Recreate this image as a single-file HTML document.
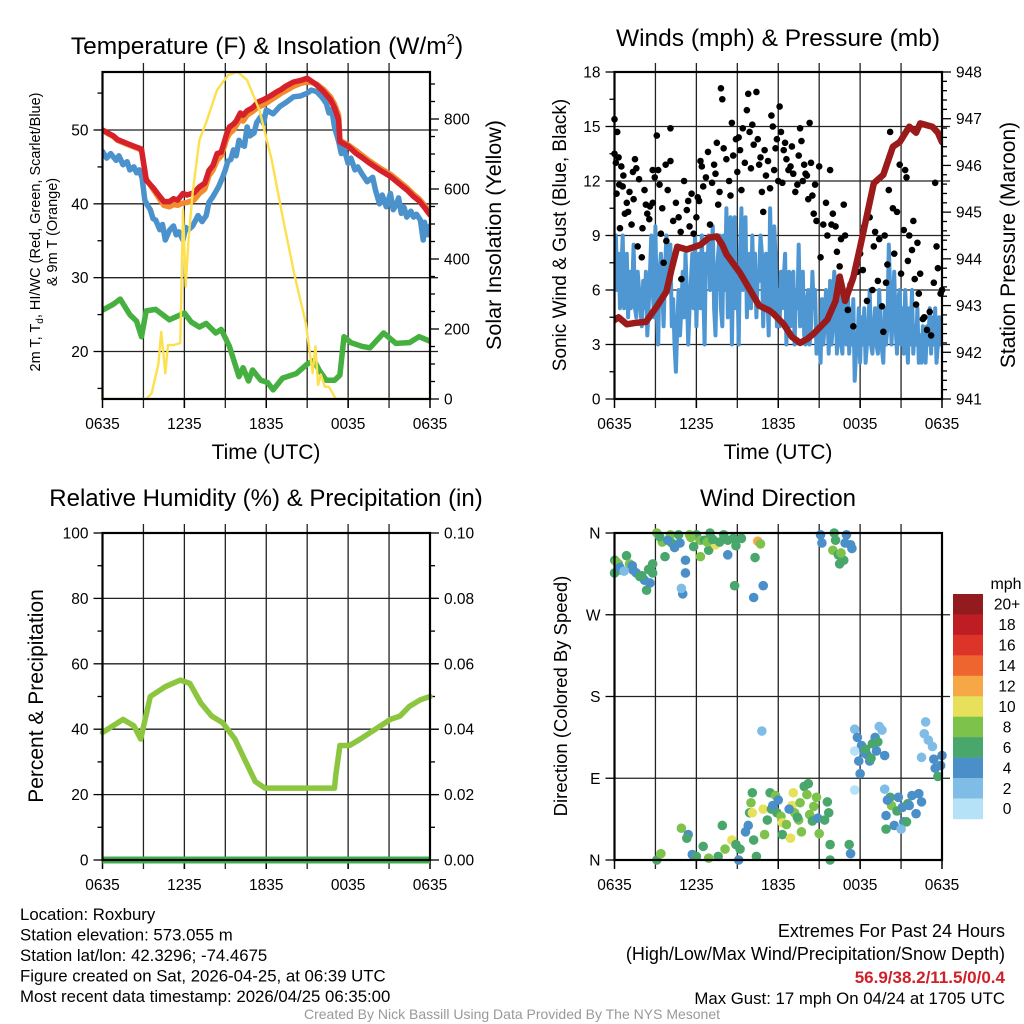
<!DOCTYPE html>
<html><head><meta charset="utf-8"><style>
html,body{margin:0;padding:0;background:#fff;}
svg{display:block;font-family:"Liberation Sans",sans-serif;}
</style></head><body>
<svg id="c" width="1024" height="1024" viewBox="0 0 1024 1024" xmlns="http://www.w3.org/2000/svg"></svg>
<script>
// ---------- data ----------
const xTickLabels = ["0635","1235","1835","0035","0635"];
// Panel 1: temperature (hours since 0635 UTC)
const redHours = [0,0.4,0.8,1.1,1.5,1.9,2.3,2.6,2.86,3.2,3.7,4.2,4.5,4.9,5.2,5.5,5.9,6.2,6.7,7.1,7.5,7.8,8.1,8.4,8.7,8.9,9.1,9.3,9.6,9.8,10.1,10.3,10.6,11.0,11.4,11.8,12.3,12.8,13.1,13.4,13.7,14.0,14.5,15.0,15.4,15.7,16.2,16.7,17.0,17.3,17.4,18.0,18.6,19.0,19.5,20.3,21.1,21.7,22.3,22.8,23.2,23.6,24];
const redTemp  = [50,49.6,49.2,48.7,48.4,48.1,47.8,47.6,47.4,43.2,42.2,41.0,40.3,40.3,40.7,40.5,41.4,41.2,41.5,42.3,42.8,44.5,45.2,46.8,47.0,48.2,49.5,50.4,50.8,51.2,52.3,52.0,52.6,53.0,53.8,54.1,54.6,55.2,55.5,55.9,56.2,56.5,56.7,57.0,56.5,56.1,55.2,54.1,53.0,51.4,48.4,47.8,46.8,46.3,45.6,44.6,43.7,42.8,41.9,41.0,40.4,39.5,38.5];
const orangeTemp=[50,49.5,49.1,48.6,48.3,48.0,47.7,47.5,47.2,43.4,42.0,40.6,39.8,39.6,39.9,39.8,40.1,40.2,40.5,41.4,42.0,43.8,44.6,45.9,46.5,47.6,48.8,49.5,50.0,50.6,51.5,51.2,52.0,52.5,53.1,53.4,54.0,54.6,55.0,55.3,55.6,55.9,56.3,56.5,56.4,56.2,55.5,54.5,53.5,52.0,48.6,48.0,47.2,46.6,45.9,44.9,44.0,43.1,42.2,41.3,40.7,39.8,38.8];
const blueHours = [0,0.3,0.6,1.0,1.2,1.5,1.8,2.0,2.3,2.5,2.7,2.9,3.1,3.3,3.5,3.7,3.9,4.2,4.4,4.6,4.9,5.2,5.4,5.6,5.9,6.1,6.3,6.6,7.0,7.3,7.6,7.8,8.1,8.5,8.8,9.0,9.2,9.4,9.6,9.8,10.0,10.2,10.4,10.6,10.8,11.1,11.3,11.6,11.8,12.0,12.5,13.0,13.5,14.0,14.5,15.0,15.3,15.7,16.1,16.4,16.6,16.8,17.0,17.3,17.5,17.7,18.0,18.2,18.5,18.7,19.0,19.4,19.8,20.0,20.3,20.5,20.8,21.1,21.3,21.5,21.7,21.9,22.1,22.3,22.6,22.8,23.0,23.3,23.5,23.6,23.8,24];
const blueTemp  = [47.1,46.2,46.8,45.9,46.5,45.3,45.7,44.6,45.0,44.2,44.6,43.5,40.5,39.8,39.2,38.0,37.8,36.5,37.2,35.1,36.4,37.0,35.8,36.2,35.1,36.8,36.5,37,38.4,37.6,38.4,40.2,41,42.3,43.6,44.6,45.8,46,47.3,46.5,48.6,48.0,47.8,50.4,49.2,49.6,51.0,51.8,50.9,52.7,52.2,53.2,53.8,54.5,54.6,55.0,55.4,55.2,54.4,53.6,52.3,52.8,50.4,48.5,46.8,47.5,45.5,46.2,44.6,45.0,44.1,43.0,43.6,41.9,40.0,41.2,39.6,41.4,39.2,39.8,40.8,38.7,39.5,38.2,39.0,38.2,38.6,37.8,35.1,37.5,35.8,37];
const greenHours= [0,0.8,1.3,2.0,2.5,2.86,3.2,3.9,4.9,5.5,6.0,6.5,7.1,7.6,8.3,8.7,9.3,10.0,10.3,10.7,11.0,11.6,12.1,12.5,13.2,14.2,15.0,15.5,15.9,16.4,17.0,17.4,17.7,18.2,19.0,19.6,20.6,21.5,22.5,23.2,24];
const greenTemp = [25.6,26.4,27.1,25.0,24.1,22.0,25.5,25.7,24.3,24.8,25.2,24.0,23.3,23.8,22.5,23.0,20.7,16.6,17.8,16.0,17.5,16.1,15.8,14.8,16.4,17.0,18.3,18.8,17.4,16.1,16.1,16.8,22.0,21.2,20.7,20.5,22.5,21.1,21.2,22.0,21.4];
const solarHours= [0,3.2,3.6,4.1,4.3,4.6,4.8,5.2,5.7,5.9,6.1,6.3,6.6,7.1,7.6,8.4,9.2,9.9,10.6,11.5,12.4,13.2,14.1,14.9,15.4,15.6,15.8,16.0,16.3,16.6,17.1,17.6,24];
const solarWm2  = [0,0,16,100,192,74,154,154,160,540,321,454,588,740,790,883,925,935,911,826,683,521,349,217,74,150,40,70,35,35,0,0,0];
// Panel 2: winds & pressure (10 samples per hour)
const windMph=[
7,9,6,8,5,7,9,5,6,8, 4.5,7,5,6,8.5,5,4.5,7,6,5, 4,6.5,5,7,3.5,5,7,9,6,4.5,
9.5,5,3,7,8,6,4,7,9,6, 6,8.5,4,5.5,3,1.5,4,6,3.5,5, 7,4.5,8,6,3,5,6.5,8,5,9,
4,7,8,5,9,6,3,8,7,9, 6,8,9.5,5,3.5,7,8,9,5,4, 9,6,10.5,4.5,8,10,3,7,10,5,
7,3,8,10.5,6,8.5,10,4.5,7,8, 5,9,6,8,4.5,7,6.5,9,8,4, 7,8,6,3.5,10.5,7,5,9.5,8,4,
6,4,7,5,6.5,8,3,6.5,7,4, 5.5,7,3,6,5,8.5,4,6,7,3.5, 3,5.5,6,3,4,7,5,6,2.5,4,
3.5,2,5.5,3,4,6,5,2.5,6.5,3, 4,7,6,2.5,5,6,3,2.5,5.5,4, 3,6,2.5,5,3,5.5,1,2.5,3,5,
2,4.5,3,5,2,3,4,6,3,2.5, 4,5,3,2.5,6,4,2.7,2,5,3, 4,8.5,6,3,5,7,4,2.5,5.5,6,
3,5,2.5,6,4,2,5,3,6,2.5, 4,3,5,2,3.5,2,4,3,2,4, 3,5,2.5,4.5,3,5,2,3,4.5,3, 3];
const windHours=windMph.map((v,i)=>i/10);
const gustHours=[0,0.2,0,0.15,0.3,0.5,0.6,0.4,0.76,1.0,1.25,1.4,1.5,1.6,1.8,1.7,2.0,2.2,2.3,2.05,2.6,2.8,2.8,3.1,3.2,3.3,3.4,3.6,3.8,3.9,4.1,4.1,4.5,4.7,4.9,5.3,5.4,5.5,5.8,6.0,6.1,6.3,6.5,6.7,7.0,7.4,7.5,7.7,7.8,7.9,8.2,8.6,8.7,8.9,9.2,9.3,9.4,9.7,9.8,9.9,10.2,10.4,10.5,10.7,10.9,11.0,11.1,11.4,11.5,11.6,11.8,11.9,12.1,12.2,12.4,12.6,12.9,13.0,13.1,13.4,13.6,13.7,13.9,14.0,14.1,14.3,14.5,14.6,14.7,14.8,15.1,15.3,15.5,15.8,15.9,16.2,16.3,16.5,16.8,16.9,17.1,17.5,18.0,18.2,18.5,18.7,19.0,19.1,19.3,19.6,19.7,19.9,20.2,20.1,20.4,20.7,20.9,21.2,21.3,21.4,21.5,21.8,21.9,22.0,22.2,22.3,22.4,22.6,22.9,23.1,23.4,23.5,23.6,23.9,24,
0.1,0.35,0.65,0.9,1.1,1.35,2.4,2.55,2.95,3.5,3.75,4.3,4.85,5.1,5.65,6.2,6.4,6.85,7.15,7.3,7.6,8.0,8.4,8.5,9.0,9.1,9.55,10.0,10.1,10.6,10.8,11.25,11.7,12.0,12.3,12.5,12.75,13.25,13.5,13.8,14.2,14.4,15.0,15.6,16.0,16.6,17.3,17.8,18.3,18.9,19.4,19.8,20.0,20.5,21.0,21.6,22.1,22.7,23.2,23.7];
const gustMph=[15.4,14.7,13.5,11.3,13.3,12.8,11.7,9.4,10.2,10.3,9.6,11,13.2,12.7,12.1,8.4,7.8,11.5,10.7,9.4,10.6,10.8,12.6,14.5,12.6,11.8,9.1,7.5,8.7,11.5,14.9,13.1,10.8,10,6.6,10.4,10.9,9.5,9.1,10.0,11.1,13.1,11.7,12.2,9.6,12.4,14.1,11.4,17.1,16.5,13.2,15.2,13.4,14.3,13.7,11.5,14.9,15.9,16.8,14.7,14,16.9,14.3,13.3,10.3,13.7,12.3,11.6,15.6,15.0,13.8,14.3,16.1,14.7,13.7,13.2,12.8,13.9,12.4,11.8,14.9,14.2,12.9,12.4,12.3,15.2,11.2,10.2,11.8,9.8,7.8,9.6,10.8,12.6,9.6,9.5,8.1,7.3,10.7,9,4.9,4.0,8.0,7.1,5.4,10,8.4,9.2,6.5,5.1,3.7,6.4,14.7,11.5,10.5,10.3,12.9,9.3,12.6,12.2,7.6,8.2,9.8,6.6,8.6,5.8,6.9,4.4,3.8,4.8,6.4,11.9,8.4,5.8,6.0,
13.0,11.8,12.3,10.8,11.4,12.5,10.2,9.9,12.2,10.5,12.9,9.8,9.2,12.0,11.3,10.9,12.8,13.6,11.9,12.9,10.7,13.8,12.0,11.2,12.5,14.4,13.0,12.7,15.1,12.9,11.4,13.1,12.6,12.0,11.9,14.1,12.6,11.4,13.4,12.0,11.0,13.0,12.8,9.0,10.2,8.8,6.3,7.0,9.5,6.0,8.8,9.0,7.4,8.0,6.9,9.0,5.2,4.5,3.5,7.2];
const presHours=[0,0.3,0.9,1.5,2.3,3.1,3.8,4.2,4.6,5.3,5.8,6.3,6.9,7.5,7.9,8.2,9.2,10.1,10.6,11.3,11.6,12.4,13.0,13.6,14.1,14.6,15.6,16.2,16.5,16.9,17.5,18.0,19.0,19.7,20.4,20.9,21.6,22.1,22.4,23.3,23.7,24];
const presMb=[942.69,942.75,942.6,942.63,942.65,942.98,943.3,943.8,944.26,944.2,944.25,944.3,944.45,944.48,944.3,944.1,943.7,943.25,943.0,942.9,942.84,942.6,942.33,942.2,942.28,942.4,942.7,943.1,943.62,943.1,943.6,944.25,945.62,945.8,946.4,946.5,946.83,946.7,946.9,946.83,946.7,946.5];
// Panel 3: relative humidity
const rhHours=[0,1.5,2.3,2.8,3.5,4.6,5.7,6.4,7.2,8.0,8.8,9.7,10.5,11.2,11.9,13.0,14.5,15.9,17.0,17.1,17.4,18.1,18.9,20.0,21.1,21.8,22.5,23.3,24];
const rhPct=[39,43,41,37,50,53,55,54,48,44,42,37,30,24,22,22,22,22,22,26,35,35,37,40,43,44,47,49,50];
const precipHours=[0,24];
const precipIn=[0,0];
// Panel 4: wind direction
const dirHours=[0,0.02,0.27,0.51,0.88,1.1,1.37,1.6,1.86,2.2,2.35,2.6,2.8,2.8,0.15,3.1,3.5,3.7,4.1,4.2,4.7,4.8,5.2,5.2,5.0,4.9,5.5,5.8,6.0,6.3,6.3,6.6,7.0,6.9,7.4,7.7,8.3,8.3,8.7,8.8,8.9,9.3,10.2,10.3,10.5,10.7,10.9,10.8,15.1,15.2,16.1,16.2,16.0,16.4,16.5,16.8,17.0,16.9,17.3,17.4,17.6,17.8,18.1,18.3,17.9,18.0,18.5,18.7,18.9,19.1,19.2,19.4,19.6,19.8,17.6,17.6,19.8,22.8,22.7,23.0,23.3,22.5,23.4,23.5,24,23.7,23.9,20.2,19.9,20.3,20.7,20.8,21.1,21.2,21.4,21.5,21.8,22.1,22.3,22.5,20.5,19.9,21.0,3.1,3.4,4.9,5.4,5.3,5.7,6.0,6.5,6.9,7.6,7.9,8.1,8.6,8.9,9.2,9.1,9.6,9.8,10.2,10.4,10.0,9.9,10.1,10.1,10.9,11.0,11.2,11.4,11.5,11.8,11.9,12.2,12.3,12.3,12.6,12.9,13.0,13.1,13.2,13.5,13.6,13.7,13.9,14.1,14.2,14.3,14.5,14.6,14.8,14.9,15.0,15.6,15.7,15.4,15.8,15.8,17.2,17.3,
0.4,0.7,1.3,2.0,2.5,3.3,3.9,4.4,5.6,6.8,7.2,8.0,16.6,18.4,18.8,19.3,21.6,20.0,11.6,12.0,12.8,13.4];
const dirDeg=[316,330,326,319,335,326,319,316,312,308,297,305,316,326,328,360,350,334,358,349,358,349,330,316,293,299,358,345,358,352,334,352,360,341,347,350,336,352,354,302,346,354,289,333,351,348,302,142,358,349,360,352,341,336,326,330,358,349,347,343,144,135,126,118,109,95,116,109,128,135,120,147,143,115,120,77,78,152,139,132,125,113,111,101,115,92,104,69,49,60,54,69,58,42,42,62,71,51,73,64,38,34,34,0,7,35,28,24,6,4,15,2,4,38,12,22,17,12,0,31,38,22,4,63,52,74,52,56,28,44,74,56,71,52,48,41,28,39,24,60,74,52,44,63,31,81,72,84,50,43,59,69,46,29,64,52,44,17,0,17,7,
322,318,324,313,320,356,352,344,355,350,353,358,338,122,112,130,60,66,60,66,56,47];
const dirSpeed=[7,7,7,7,7,9,5,5,7,5,7,5,7,7,9,9,9,7,9,7,7,5,5,5,5,3,9,7,7,9,9,7,7,7,11,7,5,7,7,7,7,7,5,7,13,9,5,3,5,5,7,7,9,7,7,7,5,5,5,5,3,5,5,5,5,5,5,5,7,5,5,3,3,5,1,1,3,3,3,3,3,3,5,5,5,7,5,7,5,9,7,5,5,5,7,7,5,5,5,5,5,7,3,7,9,9,5,7,5,7,7,9,7,7,9,11,7,7,5,5,5,7,7,9,7,7,11,11,9,7,7,7,9,7,9,11,7,9,11,11,11,9,9,9,9,7,9,7,9,7,9,9,5,9,7,7,7,7,7,7,5,5,3,5,
7,7,7,5,5,9,9,7,7,9,7,7,7,5,5,5,5,5,7,9,9,7];
const cbarLabels=["20+","18","16","14","12","10","8","6","4","2","0"];
const cbarColors=["#941b1d","#bf1d24","#dd3429","#ef6530","#f6a847","#e6e05b","#7dc24a","#4aa76b","#4a8fc7","#7fbce6","#b6e2f7"];

// ---------- helpers ----------
const NS="http://www.w3.org/2000/svg";
const svg=document.getElementById('c');
function el(tag,attrs,parent,text){
  const e=document.createElementNS(NS,tag);
  for(const k in attrs) e.setAttribute(k,attrs[k]);
  if(text!==undefined) e.textContent=text;
  (parent||svg).appendChild(e);
  return e;
}
function lin(d0,d1,r0,r1){return v=>r0+(v-d0)/(d1-d0)*(r1-r0);}
function colorFor(s){const i=Math.min(10,Math.floor(s/2));return cbarColors[10-i];}

function frame(g,X0,X1,Y0,Y1,name){
  const xs=lin(0,24,X0,X1);
  for(let h=3;h<24;h+=3){
    const gl=el('line',{x1:xs(h),x2:xs(h),y1:Y0-9,y2:Y1+9,stroke:'#222','stroke-width':1.3},g);
    
    
  }
  for(let i=0;i<5;i++){
    const t=el('line',{x1:xs(i*6),x2:xs(i*6),y1:Y1,y2:Y1+9,stroke:'#000','stroke-width':1.5},g);
    
    
    const lb=el('text',{x:xs(i*6),y:Y1+30,'font-size':15.5,'text-anchor':'middle',fill:'#000'},g,xTickLabels[i]);
    
    
  }
  return xs;
}
function hgrid(g,X0,X1,y,name){
  const l=el('line',{x1:X0,x2:X1+8,y1:y,y2:y,stroke:'#222','stroke-width':1.3},g);
  
  
}
function box(g,X0,X1,Y0,Y1,name){
  const r=el('rect',{x:X0,y:Y0,width:X1-X0,height:Y1-Y0,fill:'none',stroke:'#000','stroke-width':2.2},g);
  
  
}
function tick(g,x,y,len,name){
  const t=el('line',{x1:x,x2:x+len,y1:y,y2:y,stroke:'#000','stroke-width':1.3},g);
  
  
}
function label(g,x,y,txt,size,name,anchor,rot,fill,weight){
  const a={x:x,y:y,'font-size':size,'text-anchor':anchor||'middle',fill:fill||'#000'};
  if(rot) a.transform='rotate('+rot+' '+x+' '+y+')';
  if(weight) a['font-weight']=weight;
  const t=el('text',a,g,txt);
  
  
  return t;
}
function pathFrom(xsArr,ysArr,xs,ys){
  let d='';
  for(let i=0;i<xsArr.length;i++) d+=(i?'L':'M')+xs(xsArr[i]).toFixed(1)+' '+ys(ysArr[i]).toFixed(1);
  return d;
}

// ---------- Panel 1 ----------
(function(){
  const X0=102.5,X1=430,Y0=72,Y1=399;
  const g=el('g',{});
  
  
  const xs=frame(g,X0,X1,Y0,Y1,'temp');
  const ys=lin(20,50,351.5,130);
  const ysR=lin(0,800,399,119);
  [20,30,40,50].forEach(v=>{hgrid(g,X0,X1,ys(v),'temp');tick(g,X0,ys(v),-9,'temp-y-tick');label(g,X0-14,ys(v)+5.5,String(v),15.5,'temp-y-tick-label','end');});
  [15,25,35,45,55].forEach(v=>tick(g,X0,ys(v),-5,'temp-y-minor-tick'));
  for(let v=0;v<=900;v+=50){tick(g,X1,ysR(v),v%200===0?9:5,'solar-y-tick');}
  [0,200,400,600,800].forEach(v=>label(g,X1+14,ysR(v)+5.5,String(v),15.5,'solar-y-tick-label','start'));
  const defs=el('defs',{},g);
  const cp=el('clipPath',{id:'cp1'},defs);
  el('rect',{x:X0,y:Y0,width:X1-X0,height:Y1-Y0},cp);
  const series=[[greenHours,greenTemp,'#45b03f',5.5,'dewpoint-line'],[blueHours,blueTemp,'#4b92cc',5.5,'heat-index-line'],[redHours,orangeTemp,'#f28a2e',5.5,'temp-9m-line'],[redHours,redTemp,'#d6202a',5.5,'temp-2m-line']];
  series.forEach(s=>{
    const p=el('path',{d:pathFrom(s[0],s[1],xs,ys),fill:'none',stroke:s[2],'stroke-width':s[3],'stroke-linejoin':'round','stroke-linecap':'round','clip-path':'url(#cp1)'},g);
    
    
  });
  const sp=el('path',{d:pathFrom(solarHours,solarWm2,xs,ysR),fill:'none',stroke:'#fde04e','stroke-width':2.4,'stroke-linejoin':'round','clip-path':'url(#cp1)'},g);
  
  
  box(g,X0,X1,Y0,Y1,'temp');
  const t=label(g,267,54,'Temperature (F) & Insolation (W/m',24.5,'temp-panel-title');
  el('tspan',{dy:-10,'font-size':15},t,'2');
  el('tspan',{dy:10},t,')');
  label(g,266,459,'Time (UTC)',21,'temp-x-axis-title');
  label(g,40,232,'2m T, T',14.5,'temp-y-axis-title-line1',null,-90);
  const ttl=svg.lastChild.lastChild;
  el('tspan',{dy:3,'font-size':10},ttl,'d');
  el('tspan',{dy:-3},ttl,', HI/WC (Red, Green, Scarlet/Blue)');
  label(g,57,232,'& 9m T (Orange)',14.5,'temp-y-axis-title-line2',null,-90);
  label(g,501,235,'Solar Insolation (Yellow)',21.5,'solar-y-axis-title',null,-90);
})();

// ---------- Panel 2 ----------
(function(){
  const X0=614.5,X1=942,Y0=72,Y1=399;
  const g=el('g',{});
  
  
  const xs=frame(g,X0,X1,Y0,Y1,'wind');
  const ys=lin(0,18,Y1,Y0);
  const ysR=lin(941,948,Y1,Y0);
  [3,6,9,12,15].forEach(v=>hgrid(g,X0,X1,ys(v),'wind'));
  for(let v=0;v<=18;v+=1.5) tick(g,X0,ys(v),v%3===0?-9:-5,'wind-y-tick');
  [0,3,6,9,12,15,18].forEach(v=>label(g,X0-14,ys(v)+5.5,String(v),15.5,'wind-y-tick-label','end'));
  for(let i=0;i<=35;i++){const v=941+i*0.2;tick(g,X1,ysR(v),i%5===0?9:5,'pressure-y-tick');}
  [941,942,943,944,945,946,947,948].forEach(v=>label(g,X1+14,ysR(v)+5.5,String(v),15.5,'pressure-y-tick-label','start'));
  const defs=el('defs',{},g);
  const cp=el('clipPath',{id:'cp2'},defs);
  el('rect',{x:X0,y:Y0,width:X1-X0,height:Y1-Y0},cp);
  const wp=el('path',{d:pathFrom(windHours,windMph,xs,ys),fill:'none',stroke:'#4f97d2','stroke-width':4,'stroke-linejoin':'round','clip-path':'url(#cp2)'},g);
  
  
  for(let i=0;i<gustHours.length;i++){
    const c=el('circle',{cx:xs(gustHours[i]),cy:ys(gustMph[i]),r:3.3,fill:'#000'},g);
    
    
  }
  const pp=el('path',{d:pathFrom(presHours,presMb,xs,ysR),fill:'none',stroke:'#9b1a1a','stroke-width':6.5,'stroke-linejoin':'round','stroke-linecap':'round','clip-path':'url(#cp2)'},g);
  
  
  box(g,X0,X1,Y0,Y1,'wind');
  label(g,778,46,'Winds (mph) & Pressure (mb)',24.5,'wind-panel-title');
  label(g,778,459,'Time (UTC)',21,'wind-x-axis-title');
  label(g,566,235,'Sonic Wind & Gust (Blue, Black)',19,'wind-y-axis-title',null,-90);
  label(g,1015,245,'Station Pressure (Maroon)',21,'pressure-y-axis-title',null,-90);
})();

// ---------- Panel 3 ----------
(function(){
  const X0=102.5,X1=430,Y0=533,Y1=860;
  const g=el('g',{});
  
  
  const xs=frame(g,X0,X1,Y0,Y1,'rh');
  const ys=lin(0,100,Y1,Y0);
  const ysR=lin(0,0.1,Y1,Y0);
  [20,40,60,80].forEach(v=>hgrid(g,X0,X1,ys(v),'rh'));
  for(let v=0;v<=100;v+=10) tick(g,X0,ys(v),v%20===0?-9:-5,'rh-y-tick');
  [0,20,40,60,80,100].forEach(v=>label(g,X0-14,ys(v)+5.5,String(v),15.5,'rh-y-tick-label','end'));
  for(let v=0;v<=100;v+=10) tick(g,X1,ys(v),v%20===0?9:5,'precip-y-tick');
  ['0.00','0.02','0.04','0.06','0.08','0.10'].forEach((s,i)=>label(g,X1+14,ysR(i*0.02)+5.5,s,15.5,'precip-y-tick-label','start'));
  const rp=el('path',{d:pathFrom(rhHours,rhPct,xs,ys),fill:'none',stroke:'#8cc63f','stroke-width':5.5,'stroke-linejoin':'round','stroke-linecap':'round'},g);
  
  
  const pp=el('path',{d:pathFrom(precipHours,precipIn,xs,ysR),fill:'none',stroke:'#3fae49','stroke-width':7},g);
  
  
  box(g,X0,X1,Y0,Y1,'rh');
  label(g,266,506,'Relative Humidity (%) & Precipitation (in)',24,'humidity-panel-title');
  label(g,43,696,'Percent & Precipitation',21,'rh-y-axis-title',null,-90);
})();

// ---------- Panel 4 ----------
(function(){
  const X0=614.5,X1=942,Y0=533,Y1=860;
  const g=el('g',{});
  
  
  const xs=frame(g,X0,X1,Y0,Y1,'dir');
  const ys=lin(0,360,Y1,Y0);
  [90,180,270].forEach(v=>hgrid(g,X0,X1,ys(v),'dir'));
  ['N','E','S','W','N'].forEach((s,i)=>{tick(g,X0,ys(i*90),-9,'dir-y-tick');label(g,X0-14,ys(i*90)+5.5,s,15.5,'dir-y-tick-label','end');});
  for(let i=0;i<dirHours.length;i++){
    const c=el('circle',{cx:xs(dirHours[i]),cy:ys(dirDeg[i]),r:4.8,fill:colorFor(dirSpeed[i])},g);
    
    
  }
  box(g,X0,X1,Y0,Y1,'dir');
  label(g,778,506,'Wind Direction',24,'direction-panel-title');
  label(g,567,696,'Direction (Colored By Speed)',18.5,'dir-y-axis-title',null,-90);
  label(g,1006,589,'mph',16,'colorbar-title');
  const cg=el('g',{},g);
  
  
  const h=20.45;
  cbarColors.forEach((col,i)=>{
    const r=el('rect',{x:953,y:594+i*h,width:30,height:h+0.3,fill:col},cg);
    
    
    label(cg,1007,594+i*h+h/2+5.5,cbarLabels[i],15.5,'colorbar-label');
  });
})();

// ---------- footer ----------
(function(){
  const g=el('g',{});
  
  
  const left=['Location: Roxbury','Station elevation: 573.055 m','Station lat/lon: 42.3296; -74.4675','Figure created on Sat, 2026-04-25, at 06:39 UTC','Most recent data timestamp: 2026/04/25 06:35:00'];
  left.forEach((s,i)=>label(g,20,920+i*20.5,s,16.8,'station-info-line','start'));
  label(g,1005,937,'Extremes For Past 24 Hours',18,'extremes-title','end');
  label(g,1005,960,'(High/Low/Max Wind/Precipitation/Snow Depth)',18,'extremes-subtitle','end');
  label(g,1005,983,'56.9/38.2/11.5/0/0.4',17,'extremes-values','end',null,'#d0202a','bold');
  label(g,1005,1004,'Max Gust: 17 mph On 04/24 at 1705 UTC',16.8,'max-gust','end');
  label(g,512,1019,'Created By Nick Bassill Using Data Provided By The NYS Mesonet',14,'credit-line','middle',null,'#999');
})();
</script>
</body></html>
